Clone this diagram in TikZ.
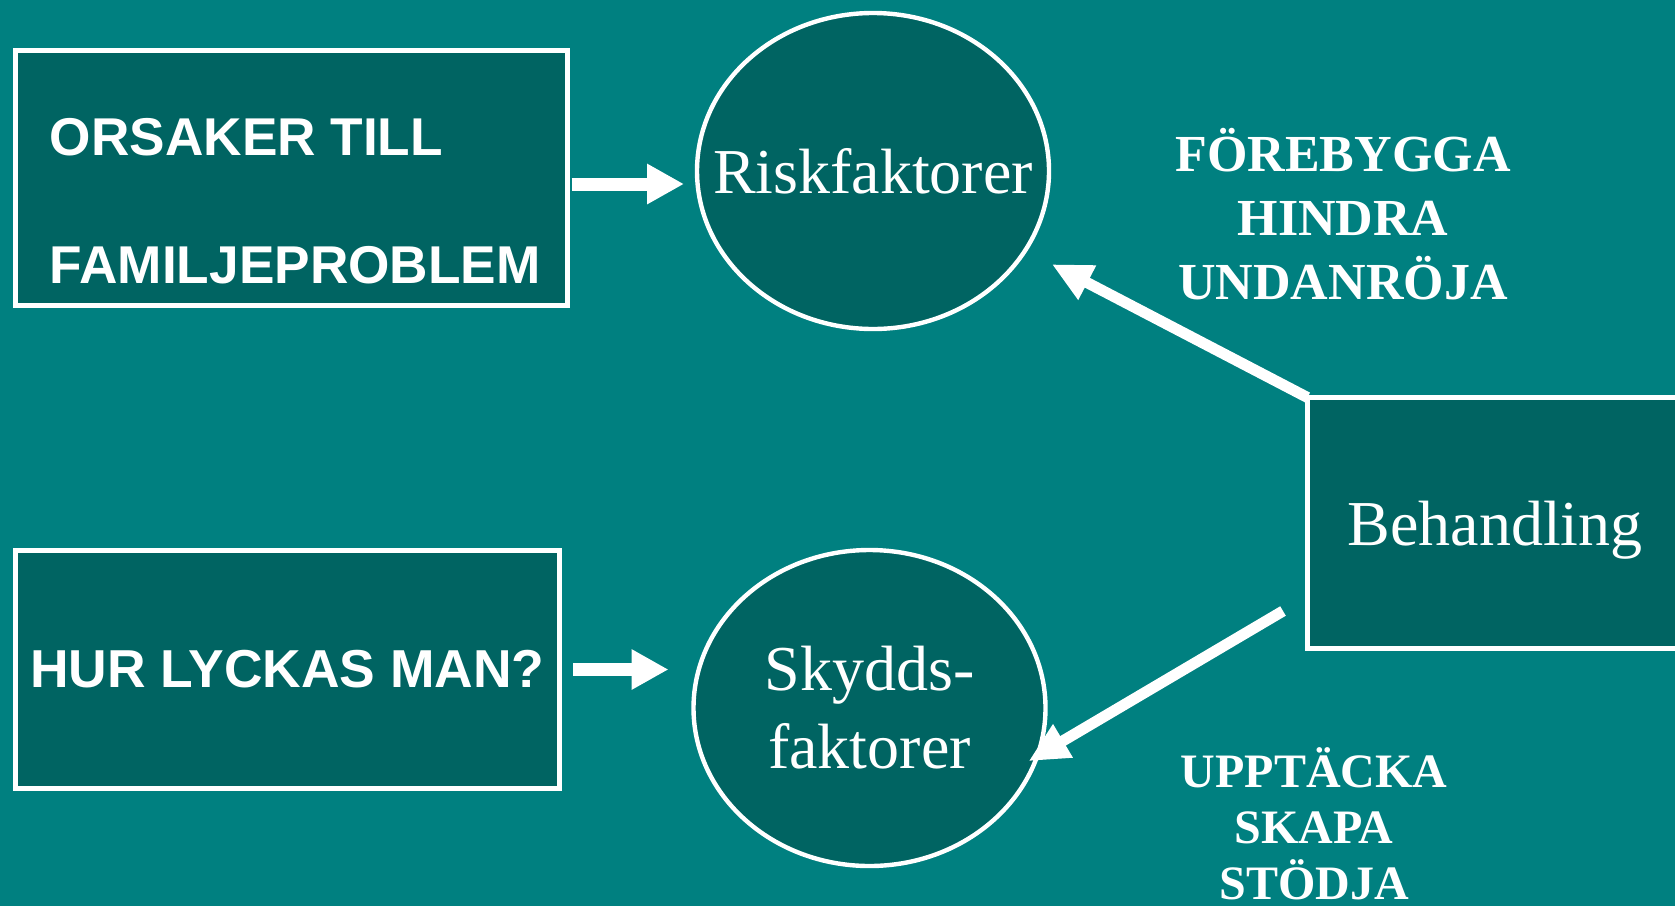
\documentclass[tikz,border=0pt]{standalone}
\usepackage{fontspec}
\setmainfont{Liberation Serif}
\setsansfont{Liberation Sans}
\usetikzlibrary{arrows.meta,positioning,shapes.geometric}
\definecolor{slide}{RGB}{0,128,128}
\definecolor{deep}{RGB}{0,100,98}

\begin{document}
\begin{tikzpicture}[x=0.5pt,y=-0.5pt,
  box/.style={rectangle,draw=white,fill=deep,line width=2.4pt,outer sep=0pt,inner sep=0pt,text=white},
  blob/.style={ellipse,draw=white,fill=deep,line width=2.2pt,outer sep=0pt,inner sep=0pt,
    minimum width=176pt,minimum height=158pt,text=white,font=\fontsize{32}{39}\selectfont,align=center},
  caps/.style={text=white,inner sep=0pt,font=\sffamily\bfseries\fontsize{26.6}{32}\selectfont},
  verbs/.style={text=white,align=center,font=\bfseries\fontsize{26}{32}\selectfont},
  fat/.style={draw=white,line width=6.5pt,-{Triangle[length=18.5pt,width=19pt]}},
  slim/.style={draw=white,line width=5.5pt,-{Triangle[length=20pt,width=18pt]}}]
  \useasboundingbox (0,0) rectangle (1675,906);
  \fill[slide] (0,0) rectangle (1675,906);
  \clip (0,0) rectangle (1675,906);
  % boxes
  \node[box,minimum width=276pt,minimum height=127.5pt] (orsak) at (291.5,178) {};
  \node[caps,anchor=west,align=left] (orsaktxt) at ([xshift=17pt,yshift=-11.5pt]orsak.west)
    {ORSAKER TILL\\[32pt]FAMILJEPROBLEM};
  \node[box,caps,font=\sffamily\bfseries\fontsize{26.7}{32}\selectfont,
    minimum width=272pt,minimum height=119pt] (hur) at (287.5,669.5) {HUR LYCKAS MAN?};
  \node[box,minimum width=187.5pt,minimum height=125.5pt,text depth=0pt,
    font=\fontsize{32}{39}\selectfont] (beh) at (1495,523) {Behandling};
  % factors
  \node[blob] (risk) at (873,171) {\makebox[0pt]{Riskfaktorer}};
  \node[blob] (skydd) at (869.5,708) {Skydds-\\faktorer};
  % what treatment does
  \node[verbs] (upper) at (1343,214) {FÖREBYGGA\\HINDRA\\UNDANRÖJA};
  \node[verbs,font=\bfseries\fontsize{24}{28}\selectfont] (lower) at (1314,824) {UPPTÄCKA\\SKAPA\\STÖDJA};
  % arrows
  \draw[fat,shorten <=2pt,shorten >=6.5pt] ([yshift=-3pt]orsak.east) -- ([yshift=-3pt]orsak.east -| risk.west);
  \draw[fat,shorten <=6.8pt,shorten >=12.5pt] (hur.east) -- (hur.east -| skydd.west);
  \draw[slim,shorten >=15pt] (beh.north west) -- (risk);
  \coordinate (b3) at ([xshift=-12.25pt,yshift=-44pt]beh.west);
  \draw[slim,shorten >=-5pt] (b3) -- (skydd.-16);
\end{tikzpicture}
\end{document}
